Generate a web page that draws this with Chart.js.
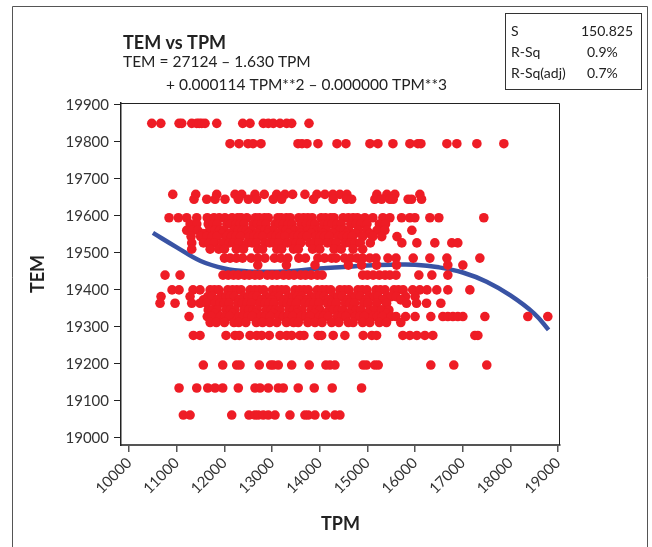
<!DOCTYPE html>
<html>
<head>
<meta charset="utf-8">
<script src="https://cdn.jsdelivr.net/npm/chart.js@4.4.1/dist/chart.umd.min.js"></script>
<style>
  html, body { margin: 0; padding: 0; background: #fff; }
  canvas { display: block; }
</style>
</head>
<body>
<canvas id="chart" width="652" height="547"></canvas>
<script>
// Tick labels
const xTicks = [10000, 11000, 12000, 13000, 14000, 15000, 16000, 17000, 18000, 19000];
const yTicks = [19000, 19100, 19200, 19300, 19400, 19500, 19600, 19700, 19800, 19900];

// Fitted line
const fitTpm = [10500, 11000, 11500, 12000, 12500, 13000, 13500, 14000, 14500, 15000, 15500, 16000, 16500, 17000, 17500, 18000, 18500, 18800];
const fitTem = [19554, 19515, 19478, 19458, 19450, 19449, 19452, 19458, 19462, 19466, 19468, 19468, 19461, 19447, 19422, 19385, 19336, 19292];

// Stats box
const statNames = ['S', 'R-Sq', 'R-Sq(adj)'];
const statValues = ['150.825', '0.9%', '0.7%'];

// Scatter rows: TPM values found on each TEM level
const tpm19850 = [10476, 10665, 11048, 11105, 11314, 11419, 11470, 11524, 11593, 11839, 12384, 12537, 12816, 12920, 13025, 13166, 13306, 13411, 13774];
const tpm19795 = [12117, 12306, 12495, 12600, 12767, 13543, 13627, 13732, 13962, 14361, 14549, 15052, 15220, 15535, 15891, 16059, 16122, 16667, 16876, 17296, 17862];
const tpm19658 = [10916, 11398, 11838, 12222, 12362, 12641, 12836, 13096, 13270, 13431, 13689, 13940, 14108, 14276, 14422, 14569, 15198, 15408, 15575, 16100];
const tpm19645 = [11362, 11629, 11803, 12012, 12291, 12500, 12676, 13025, 13200, 13868, 14282, 14563, 14668, 15156, 15297, 15471, 15540, 15854, 15925, 16135];
const tpm19595 = [10838, 11033, 11209, 11419, 11640, 11780, 11890, 12010, 12160, 12280, 12350, 12470, 12650, 12730, 12840, 12920, 13120, 13190, 13300, 13380, 13560, 13660, 13750, 13840, 14030, 14120, 14230, 14300, 14490, 14600, 14700, 14790, 14946, 15114, 15324, 15471, 15716, 15890, 15995, 16310, 16498, 17442];
const tpm19578 = [11280, 11420, 11660, 11760, 11850, 12050, 12130, 12240, 12320, 12410, 12600, 12690, 12780, 12870, 13060, 13150, 13240, 13330, 13420, 13610, 13720, 13810, 13900, 14080, 14180, 14260, 14360, 14450, 14650, 14760, 14860, 14990, 15250, 15380];
const tpm19561 = [11209, 11330, 11440, 11690, 11800, 11900, 11990, 12200, 12290, 12380, 12460, 12570, 12750, 12850, 12930, 13030, 13210, 13290, 13400, 13480, 13590, 13760, 13860, 13950, 14050, 14140, 14330, 14420, 14510, 14610, 14810, 14988, 15200, 15366, 15932];
const tpm19552 = [11550, 11950, 12100, 12500, 12680, 12900, 13120, 13350, 13600, 13820, 14070, 14280, 14560, 14740, 15050];
const tpm19544 = [11300, 11500, 11630, 11740, 11840, 12050, 12150, 12240, 12340, 12520, 12620, 12710, 12800, 12990, 13080, 13170, 13270, 13450, 13540, 13640, 13730, 13920, 14010, 14100, 14200, 14390, 14480, 14580, 14680, 14900, 15114, 15300, 15620];
const tpm19527 = [11314, 11560, 11680, 11780, 11960, 12100, 12190, 12300, 12480, 12580, 12670, 12860, 12950, 13040, 13140, 13320, 13420, 13510, 13600, 13790, 13880, 13980, 14160, 14260, 14350, 14540, 14640, 14740, 14850, 15060, 15722, 16037, 16414, 16770, 16896];
const tpm19510 = [11314, 11700, 11880, 12000, 12250, 12400, 12700, 12800, 13100, 13200, 13450, 13550, 13850, 14000, 14300, 14450, 14700, 14900];
const tpm19486 = [12000, 12120, 12250, 12380, 12560, 12700, 12850, 13050, 13180, 13330, 13560, 13700, 13960, 14100, 14250, 14340, 14520, 14650, 14780, 14900, 15050, 15180, 15430, 15600, 15960, 16310, 16667, 17359];
const tpm19467 = [12700, 13300, 13900, 14600, 14877, 15192, 15611, 16687, 17002];
const tpm19440 = [10754, 11069, 11970, 12080, 12190, 12290, 12420, 12520, 12640, 12740, 12900, 13000, 13100, 13240, 13350, 13460, 13600, 13700, 13820, 13950, 14050, 14900, 15000, 15120, 15250, 15370, 15470, 15600, 16079, 16352, 16687];
const tpm19400 = [10901, 11048, 11341, 11488, 11700, 11790, 11880, 12070, 12170, 12260, 12350, 12540, 12640, 12730, 12820, 13010, 13110, 13200, 13290, 13480, 13580, 13670, 13760, 13950, 14050, 14140, 14230, 14420, 14520, 14610, 14800, 14890, 14990, 15180, 15270, 15370, 15560, 15650, 15750, 15950, 16100, 16250, 16455, 16687, 17149];
const tpm19382 = [10670, 11279, 11650, 11740, 11930, 12030, 12120, 12210, 12400, 12500, 12590, 12680, 12870, 12970, 13060, 13150, 13340, 13440, 13530, 13620, 13810, 13910, 14000, 14090, 14280, 14380, 14470, 14660, 14750, 14850, 15030, 15130, 15220, 15410, 15500, 15600, 15800, 16000];
const tpm19373 = [11560, 11850, 12310, 12780, 13000, 13250, 13570, 13730, 14140, 14190, 14570, 14960, 15320, 15700];
const tpm19364 = [10649, 10964, 11314, 11488, 11629, 11810, 11910, 12000, 12100, 12280, 12380, 12470, 12570, 12750, 12850, 12940, 13040, 13220, 13320, 13410, 13510, 13690, 13790, 13880, 13980, 14160, 14260, 14350, 14540, 14630, 14730, 14920, 15010, 15192, 15401, 15820, 16030, 16240, 16540];
const tpm19346 = [11660, 11750, 11850, 12040, 12130, 12220, 12410, 12510, 12600, 12690, 12880, 12980, 13070, 13160, 13350, 13450, 13540, 13630, 13820, 13920, 14010, 14200, 14290, 14390, 14480, 14670, 14760, 14860, 15050, 15140, 15300, 15450];
const tpm19336 = [11800, 12170, 12650, 13020, 13520, 13880, 14120, 14600, 15000, 15400];
const tpm19328 = [11258, 11640, 11730, 11920, 12020, 12110, 12300, 12390, 12490, 12580, 12770, 12860, 12960, 13140, 13240, 13330, 13430, 13610, 13710, 13800, 13990, 14080, 14180, 14370, 14460, 14550, 14740, 14840, 14930, 15120, 15210, 15310, 15500, 15600, 15800, 16000, 16330, 16582, 16687, 16792, 16896, 17002, 17464, 18365, 18784];
const tpm19312 = [11700, 11830, 12000, 12200, 12300, 12450, 12670, 12800, 12950, 13100, 13300, 13450, 13550, 13750, 13900, 14050, 14250, 14400, 14600, 14700, 14900, 15050, 15250, 15400, 15700];
const tpm19277 = [11348, 11488, 12033, 12222, 12312, 12537, 12677, 12781, 12941, 13166, 13306, 13411, 13584, 13668, 13968, 14039, 14282, 14527, 14911, 15093, 15192, 15743, 15890, 16037, 16205, 16372, 17254, 17317];
const tpm19197 = [11557, 11964, 12257, 12327, 12731, 12970, 13025, 13130, 13411, 13779, 14129, 14213, 14318, 14911, 14981, 15156, 15226, 16330, 16812, 17504];
const tpm19135 = [11048, 11419, 11650, 11803, 11964, 12291, 12641, 12746, 12920, 13130, 13234, 13548, 13884, 14261, 14877];
const tpm19062 = [11138, 11279, 12153, 12515, 12641, 12710, 12815, 12920, 13061, 13375, 13689, 13758, 13899, 14123, 14318, 14423];

const rowLevels = [19850, 19795, 19658, 19645, 19595, 19578, 19561, 19552, 19544, 19527, 19510, 19486, 19467,
                   19440, 19400, 19382, 19373, 19364, 19346, 19336, 19328, 19312, 19277, 19197, 19135, 19062];
const rowValues = [tpm19850, tpm19795, tpm19658, tpm19645, tpm19595, tpm19578, tpm19561, tpm19552, tpm19544, tpm19527, tpm19510, tpm19486, tpm19467,
                   tpm19440, tpm19400, tpm19382, tpm19373, tpm19364, tpm19346, tpm19336, tpm19328, tpm19312, tpm19277, tpm19197, tpm19135, tpm19062];

const scatterPoints = [];
rowLevels.forEach((level, i) => {
    rowValues[i].forEach(tpm => scatterPoints.push({ x: tpm, y: level }));
});
const fitPoints = fitTpm.map((tpm, i) => ({ x: tpm, y: fitTem[i] }));

const textFont = 'Lato, "Noto Sans", sans-serif';

// Frame, plot box, title, equation and stats box
const decorPlugin = {
    id: 'decor',
    afterDraw(chart) {
        const ctx = chart.ctx;
        const area = chart.chartArea;
        ctx.save();

        // outer frame
        ctx.strokeStyle = '#555';
        ctx.lineWidth = 1;
        ctx.beginPath();
        ctx.moveTo(12.5, 560);
        ctx.lineTo(12.5, 6.5);
        ctx.lineTo(647.5, 6.5);
        ctx.lineTo(647.5, 560);
        ctx.stroke();

        // top and right of the plot box
        ctx.strokeStyle = '#222';
        ctx.beginPath();
        ctx.moveTo(area.left, area.top + 0.5);
        ctx.lineTo(area.right - 0.5, area.top + 0.5);
        ctx.lineTo(area.right - 0.5, area.bottom);
        ctx.stroke();

        // title and equation
        ctx.fillStyle = '#222';
        ctx.textBaseline = 'middle';
        ctx.textAlign = 'left';
        ctx.font = 'bold 18px ' + textFont;
        ctx.fillText('TEM vs TPM', 123, 43);
        ctx.font = '15.5px ' + textFont;
        ctx.fillText('TEM = 27124 \u2013 1.630 TPM', 123, 62);
        ctx.fillText('+ 0.000114 TPM**2 \u2013 0.000000 TPM**3', 166, 85);

        // stats box
        ctx.strokeStyle = '#333';
        ctx.strokeRect(505.5, 13.5, 136, 76);
        ctx.font = '14px ' + textFont;
        statNames.forEach((name, i) => {
            const y = 31 + i * 21;
            ctx.fillText(name, 511, y);
            ctx.fillText(statValues[i], i === 0 ? 581 : 587, y);
        });
        ctx.restore();
    }
};

new Chart(document.getElementById('chart'), {
    type: 'scatter',
    data: {
        datasets: [
            {
                data: scatterPoints,
                backgroundColor: '#ee1c25',
                borderWidth: 0,
                pointRadius: 4.8,
                order: 0
            },
            {
                type: 'line',
                data: fitPoints,
                borderColor: '#3953a4',
                borderWidth: 4.5,
                pointRadius: 0,
                tension: 0.4,
                fill: false,
                order: 1
            }
        ]
    },
    options: {
        responsive: false,
        animation: false,
        layout: { padding: { left: 20, top: 103, right: 92, bottom: 0 } },
        plugins: {
            legend: { display: false },
            tooltip: { enabled: false }
        },
        scales: {
            x: {
                type: 'linear',
                min: 9830,
                max: 19040,
                afterBuildTicks: scale => { scale.ticks = xTicks.map(v => ({ value: v })); },
                afterFit: scale => { scale.height = 102; },
                grid: { drawOnChartArea: false, drawTicks: true, tickLength: 7, color: '#555', lineWidth: 1.5 },
                border: { color: '#555', width: 2 },
                ticks: {
                    autoSkip: false,
                    minRotation: 45,
                    maxRotation: 45,
                    padding: 2,
                    color: '#333',
                    font: { family: textFont, size: 15 },
                    callback: v => String(v)
                },
                title: {
                    display: true,
                    text: 'TPM',
                    color: '#222',
                    font: { family: textFont, size: 18, weight: 'bold' },
                    padding: { top: 0, bottom: 12 }
                }
            },
            y: {
                type: 'linear',
                min: 18981,
                max: 19905,
                afterBuildTicks: scale => { scale.ticks = yTicks.map(v => ({ value: v })); },
                afterFit: scale => { scale.width = 101; },
                grid: { drawOnChartArea: false, drawTicks: true, tickLength: 7, color: '#222', lineWidth: 1 },
                border: { color: '#222', width: 1.5 },
                ticks: {
                    padding: 5,
                    color: '#333',
                    font: { family: textFont, size: 15 },
                    callback: v => String(v)
                },
                title: {
                    display: true,
                    text: 'TEM',
                    color: '#222',
                    font: { family: textFont, size: 18, weight: 'bold' },
                    padding: { top: 7, bottom: 0 }
                }
            }
        }
    },
    plugins: [decorPlugin]
});
</script>
</body>
</html>
